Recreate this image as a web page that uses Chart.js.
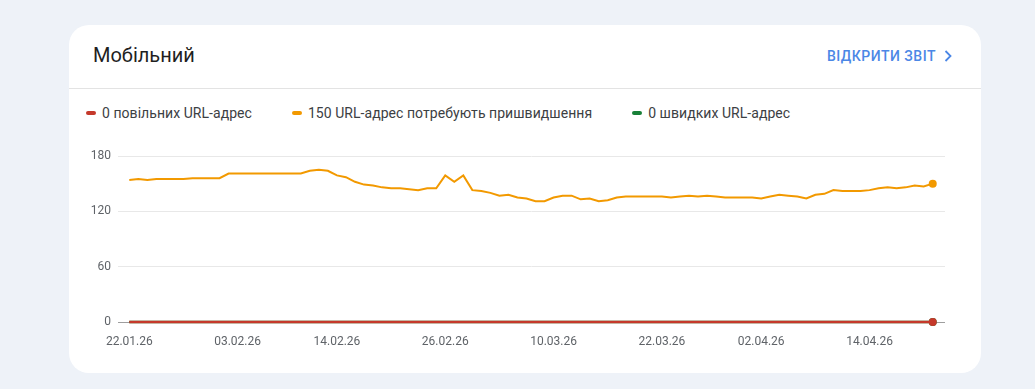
<!DOCTYPE html>
<html>
<head>
<meta charset="utf-8">
<style>
    body {
        margin: 0;
        background: #eef2f8;
        font-family: Roboto, "Noto Sans", sans-serif;
    }
    .card {
        position: absolute;
        left: 69px;
        top: 25px;
        width: 912px;
        height: 348px;
        background: #fff;
        border-radius: 20px;
        overflow: hidden;
    }
    .title {
        position: absolute;
        left: 24px;
        top: 16px;
        font-size: 20px;
        line-height: 28px;
        color: #1f1f1f;
    }
    .link {
        position: absolute;
        right: 29px;
        top: 22px;
        font-size: 14px;
        font-weight: 500;
        line-height: 18px;
        letter-spacing: 0.5px;
        color: #4b87e6;
        display: flex;
        align-items: center;
    }
    .link svg {
        margin-left: 8px;
    }
    .divider {
        position: absolute;
        left: 0;
        right: 0;
        top: 63px;
        border-top: 1px solid #e3e3e3;
    }
    #legend {
        position: absolute;
        left: 17px;
        top: 79px;
        display: flex;
        font-size: 14px;
        line-height: 18px;
        letter-spacing: 0.05px;
        color: #3c4043;
    }
    #legend .item {
        display: flex;
        align-items: center;
        margin-right: 40px;
    }
    #legend .mark {
        display: inline-block;
        width: 10px;
        height: 4px;
        border-radius: 2px;
        margin-right: 6px;
    }
    .chart-box {
        position: absolute;
        left: 0;
        top: 116px;
        width: 912px;
        height: 233px;
    }
</style>
</head>
<body>
    <div class="card">
        <div class="title">Мобільний</div>
        <div class="link">ВІДКРИТИ ЗВІТ
            <svg width="8" height="12" viewBox="0 0 8 12"><path d="M1.5 1 L6.5 6 L1.5 11" fill="none" stroke="#4b87e6" stroke-width="1.8"/></svg>
        </div>
        <div class="divider"></div>
        <div id="legend"></div>
        <div class="chart-box"><canvas id="chart"></canvas></div>
    </div>

<script src="https://cdn.jsdelivr.net/npm/chart.js@4.4.1/dist/chart.umd.min.js"></script>
<script>
    const dates = [
        '22.01.26', '23.01.26', '24.01.26', '25.01.26', '26.01.26', '27.01.26', '28.01.26', '29.01.26', '30.01.26', '31.01.26',
        '01.02.26', '02.02.26', '03.02.26', '04.02.26', '05.02.26', '06.02.26', '07.02.26', '08.02.26', '09.02.26', '10.02.26',
        '11.02.26', '12.02.26', '13.02.26', '14.02.26', '15.02.26', '16.02.26', '17.02.26', '18.02.26', '19.02.26', '20.02.26',
        '21.02.26', '22.02.26', '23.02.26', '24.02.26', '25.02.26', '26.02.26', '27.02.26', '28.02.26',
        '01.03.26', '02.03.26', '03.03.26', '04.03.26', '05.03.26', '06.03.26', '07.03.26', '08.03.26', '09.03.26', '10.03.26',
        '11.03.26', '12.03.26', '13.03.26', '14.03.26', '15.03.26', '16.03.26', '17.03.26', '18.03.26', '19.03.26', '20.03.26',
        '21.03.26', '22.03.26', '23.03.26', '24.03.26', '25.03.26', '26.03.26', '27.03.26', '28.03.26', '29.03.26', '30.03.26',
        '31.03.26',
        '01.04.26', '02.04.26', '03.04.26', '04.04.26', '05.04.26', '06.04.26', '07.04.26', '08.04.26', '09.04.26', '10.04.26',
        '11.04.26', '12.04.26', '13.04.26', '14.04.26', '15.04.26', '16.04.26', '17.04.26', '18.04.26', '19.04.26', '20.04.26',
        '21.04.26'
    ];

    const tickLabels = ['22.01.26', '03.02.26', '14.02.26', '26.02.26', '10.03.26', '22.03.26', '02.04.26', '14.04.26'];
    const yTicks = [0, 60, 120, 180];

    // slow URLs
    const slowUrls = [
        0, 0, 0, 0, 0, 0, 0, 0, 0, 0, 0, 0, 0, 0, 0, 0, 0, 0, 0, 0,
        0, 0, 0, 0, 0, 0, 0, 0, 0, 0, 0, 0, 0, 0, 0, 0, 0, 0, 0, 0,
        0, 0, 0, 0, 0, 0, 0, 0, 0, 0, 0, 0, 0, 0, 0, 0, 0, 0, 0, 0,
        0, 0, 0, 0, 0, 0, 0, 0, 0, 0, 0, 0, 0, 0, 0, 0, 0, 0, 0, 0,
        0, 0, 0, 0, 0, 0, 0, 0, 0, 0
    ];

    // URLs that need improvement
    const needWorkUrls = [
        154, 155, 154, 155, 155, 155, 155, 156, 156, 156,
        156, 161, 161, 161, 161, 161, 161, 161, 161, 161,
        164, 165, 164, 159, 157, 152, 149, 148, 146, 145,
        145, 144, 143, 145, 145, 159, 152, 159, 143, 142,
        140, 137, 138, 135, 134, 131, 131, 135, 137, 137,
        133, 134, 131, 132, 135, 136, 136, 136, 136, 136,
        135, 136, 137, 136, 137, 136, 135, 135, 135, 135,
        134, 136, 138, 137, 136, 134, 138, 139, 143, 142,
        142, 142, 143, 145, 146, 145, 146, 148, 147, 150
    ];

    // fast URLs
    const fastUrls = [
        0, 0, 0, 0, 0, 0, 0, 0, 0, 0, 0, 0, 0, 0, 0, 0, 0, 0, 0, 0,
        0, 0, 0, 0, 0, 0, 0, 0, 0, 0, 0, 0, 0, 0, 0, 0, 0, 0, 0, 0,
        0, 0, 0, 0, 0, 0, 0, 0, 0, 0, 0, 0, 0, 0, 0, 0, 0, 0, 0, 0,
        0, 0, 0, 0, 0, 0, 0, 0, 0, 0, 0, 0, 0, 0, 0, 0, 0, 0, 0, 0,
        0, 0, 0, 0, 0, 0, 0, 0, 0, 0
    ];

    const seriesNames = ['0 повільних URL-адрес', '150 URL-адрес потребують пришвидшення', '0 швидких URL-адрес'];
    const seriesColors = ['#c5392b', '#f29900', '#188038'];
    const seriesData = [slowUrls, needWorkUrls, fastUrls];

    const lastIndex = dates.length - 1;
    const toPoints = (arr) => arr.map((v, i) => ({ x: i, y: v }));

    // html legend
    const legend = document.getElementById('legend');
    seriesNames.forEach((name, i) => {
        const item = document.createElement('div');
        item.className = 'item';
        item.innerHTML = `<span class="mark" style="background:${seriesColors[i]}"></span>${name}`;
        legend.appendChild(item);
    });

    Chart.defaults.font.family = 'Roboto';

    const datasets = seriesData.map((arr, i) => ({
        label: seriesNames[i],
        data: toPoints(arr),
        borderColor: seriesColors[i],
        backgroundColor: seriesColors[i],
        borderWidth: i === 1 ? 2 : 2.5,
        tension: 0,
        clip: 4,
        pointRadius: (c) => c.dataIndex === lastIndex ? 4 : 0,
        pointBorderWidth: 0,
        pointHoverRadius: 0
    }));

    const ctx = document.getElementById('chart').getContext('2d');
    new Chart(ctx, {
        type: 'line',
        data: { datasets: datasets },
        options: {
            responsive: true,
            maintainAspectRatio: false,
            animation: false,
            layout: { padding: { top: 15, right: 36, left: 0, bottom: 0 } },
            plugins: {
                legend: { display: false },
                tooltip: { enabled: false }
            },
            scales: {
                x: {
                    type: 'linear',
                    min: -1.25,
                    max: lastIndex + 1.36,
                    grid: { display: false, drawTicks: false },
                    border: { display: false },
                    afterBuildTicks: (s) => {
                        s.ticks = tickLabels.map(t => ({ value: dates.indexOf(t) }));
                    },
                    afterFit: (s) => { s.height = 52; },
                    ticks: {
                        autoSkip: false,
                        maxRotation: 0,
                        padding: 13,
                        color: '#5f6368',
                        font: { size: 12 },
                        callback: (v) => dates[v]
                    }
                },
                y: {
                    min: yTicks[0],
                    max: yTicks[yTicks.length - 1],
                    afterBuildTicks: (s) => {
                        s.ticks = yTicks.map(v => ({ value: v }));
                    },
                    afterFit: (s) => { s.width = 49; },
                    grid: {
                        drawTicks: false,
                        color: (c) => c.tick && c.tick.value === 0 ? '#9e9e9e' : '#e8e8e8'
                    },
                    border: { display: false },
                    ticks: {
                        padding: 7,
                        color: '#5f6368',
                        font: { size: 12 }
                    }
                }
            }
        }
    });
</script>
</body>
</html>
